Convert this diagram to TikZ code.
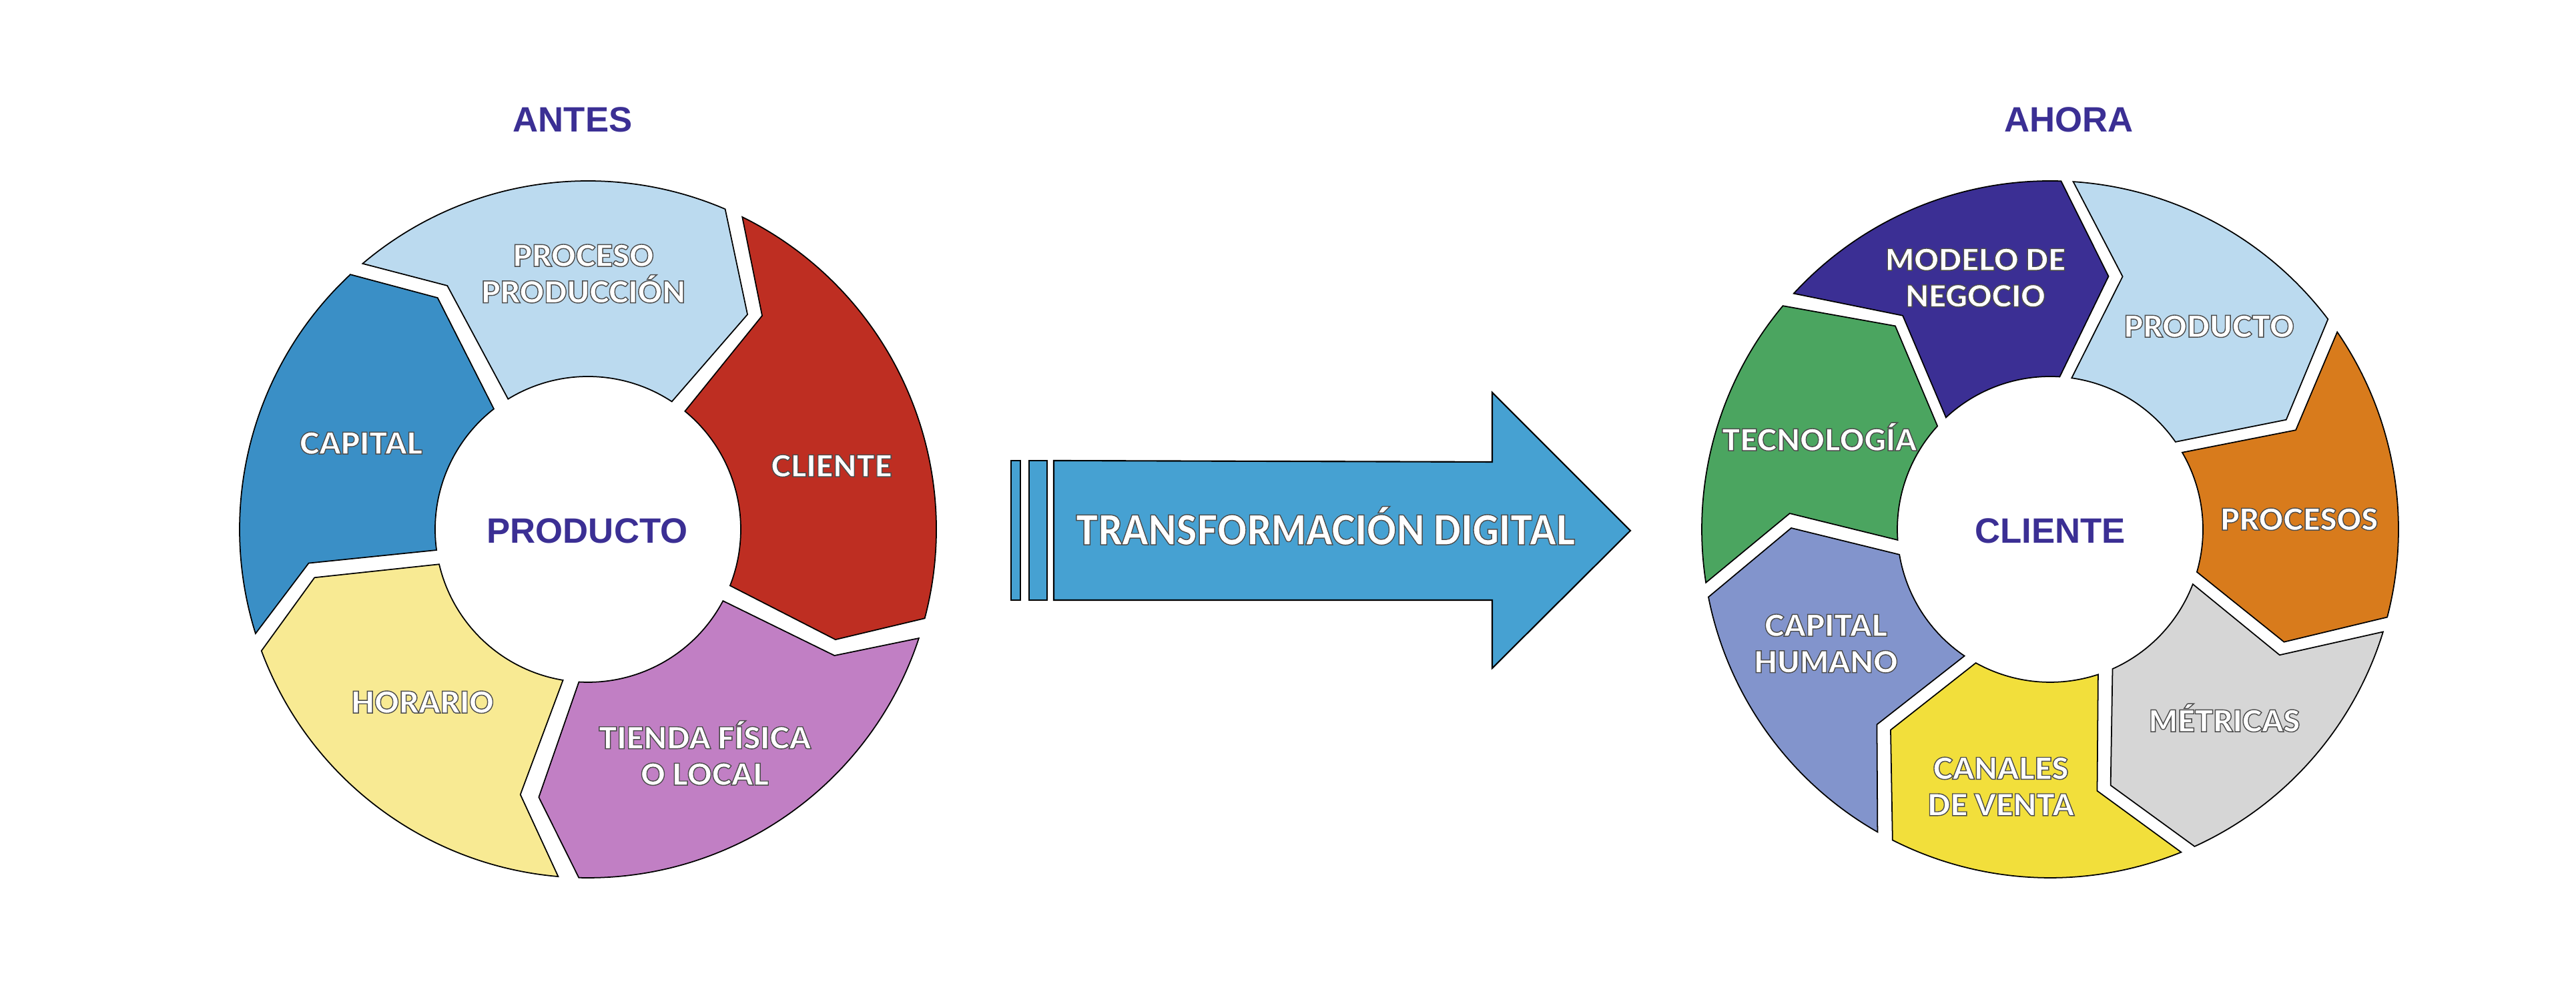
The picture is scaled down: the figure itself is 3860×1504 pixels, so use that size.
\documentclass[tikz,border=0pt]{standalone}
\usepackage{fontspec}
\setmainfont{Liberation Sans}
\IfFontExistsTF{Lato Black}{%
  \newfontfamily\heavyfont{Lato Black}%
  \newfontfamily\heavycond[FakeStretch=0.89]{Lato Black}%
}{%
  \newfontfamily\heavyfont{Liberation Sans Bold}%
  \newfontfamily\heavycond[FakeStretch=0.9]{Liberation Sans Bold}%
}
\definecolor{ink}{HTML}{3B2F94}
\definecolor{cLightBlue}{HTML}{BBDAEF}
\definecolor{cRed}{HTML}{BE2E22}
\definecolor{cPurple}{HTML}{C17FC4}
\definecolor{cPaleYellow}{HTML}{F8EA93}
\definecolor{cBlue}{HTML}{3A8FC6}
\definecolor{cIndigo}{HTML}{3B2F94}
\definecolor{cOrange}{HTML}{D87B1C}
\definecolor{cGray}{HTML}{D6D6D6}
\definecolor{cYellow}{HTML}{F2DF3B}
\definecolor{cPeri}{HTML}{8294CC}
\definecolor{cGreen}{HTML}{4BA560}
\definecolor{cArrow}{HTML}{46A1D2}
\newcommand{\Rout}{522}
\newcommand{\Rin}{229}
\newcommand{\outl}[1]{\special{pdf:literal direct 0.3 0.3 0.3 RG 0.4 w 2 Tr}#1\special{pdf:literal direct 0 Tr}}
% #1 colour, #2 trailing outer angle, #3 leading outer angle, #4 tip (a:r),
% #5 leading inner angle, #6 trailing inner angle, #7 notch (a:r)
\newcommand{\seg}[7]{%
  \filldraw[segline, fill=#1] (#2:\Rout) arc[start angle=#2, end angle=#3, radius=\Rout]
    -- (#4) -- (#5:\Rin) arc[start angle=#5, end angle=#6, radius=\Rin] -- (#7) -- cycle;}
\tikzset{
  segline/.style={draw=black, line width=0.5pt, line join=miter},
  lbl/.style={text=white, font=\heavyfont\fontsize{12.8}{15.5}\selectfont, align=center, inner sep=0pt},
  lblone/.style={lbl, text height=9.2pt, text depth=0pt},
  title/.style={text=ink, font=\bfseries\fontsize{15}{18}\selectfont, inner sep=0pt, text height=10.8pt, text depth=0pt},
  arrowshape/.style={draw=black, line width=0.6pt, fill=cArrow, line join=miter}
}
\begin{document}
\begin{tikzpicture}[x=0.01cm, y=0.01cm]
\useasboundingbox (0,0) rectangle (3860,1504);
\fill[white] (0,0) rectangle (3860,1504);

% ---------------- left wheel ----------------
\begin{scope}[shift={(881,711)}]
  \seg{cLightBlue}{130.3}{66.8}{53.4:401}{56.7}{121.5}{120:421.5}
  \seg{cRed}{63.7}{-14.8}{-24:406}{-21.6}{50.6}{50.8:413}
  \seg{cPurple}{-18.2}{-91.5}{-100.4:408}{-93.4}{-27.9}{-27.1:415}
  \seg{cPaleYellow}{-94.9}{-159.6}{-170:416}{-166.8}{-99.4}{-104.3:410}
  \seg{cBlue}{197.4}{133}{123:413.6}{128}{187.8}{186.9:421.5}
\end{scope}
\node[title] (antes) at (858,1325) {ANTES};
\node[lbl] (proceso) at (874,1094) {\outl{PROCESO\\PRODUCCIÓN}};
\node[lblone] (clienteL) at (1246,806) {\outl{CLIENTE}};
\node[lbl] (tienda) at (1056,376) {\outl{TIENDA FÍSICA\\O LOCAL}};
\node[lblone] (horario) at (633,452) {\outl{HORARIO}};
\node[lblone] (capital) at (541,840) {\outl{CAPITAL}};
\node[title] (producto) at (880,709) {PRODUCTO};

% ---------------- arrow ----------------
\filldraw[arrowshape] (1515,605) rectangle (1529,814);
\filldraw[arrowshape] (1542,605) rectangle (1569,814);
\filldraw[arrowshape] (1579,605) -- (1579,814) -- (2236,812) -- (2236,916)
  -- (2443,709) -- (2236,503) -- (2236,605) -- cycle;
\node[text=white, inner sep=0pt, text height=12.6pt, text depth=0pt,
  font=\heavycond\fontsize{17.5}{20}\selectfont] (td) at (1986,710)
  {\outl{TRANSFORMACIÓN DIGITAL}};

% ---------------- right wheel ----------------
\begin{scope}[shift={(3072,711)}]
  \seg{cIndigo}{137.4}{88.2}{77:389}{86.4}{132.97}{124.6:389}
  \seg{cLightBlue}{86.2}{37.1}{24.9:390}{34.9}{81.9}{74:394}
  \seg{cOrange}{34.5}{-14.6}{-25.7:389}{-16.2}{30.2}{22:397}
  \seg{cGray}{-17.1}{-65.5}{-76.7:394}{-65.9}{-21}{-28.7:392}
  \seg{cYellow}{-67.9}{-116.9}{-128.5:384}{-119.1}{-71.7}{-79.8:398}
  \seg{cPeri}{-119.7}{-168.8}{-180.3:388}{-170.5}{-124.1}{-131.6:391}
  \seg{cGreen}{188.8}{140.1}{127.3:383}{137.5}{184}{176.5:391}
\end{scope}
\node[title] (ahora) at (3100,1325) {AHORA};
\node[lbl] (modelo) at (2960,1088) {\outl{MODELO DE\\NEGOCIO}};
\node[lblone] (productoR) at (3310,1015) {\outl{PRODUCTO}};
\node[lblone] (procesos) at (3445,726) {\outl{PROCESOS}};
\node[lblone] (metricas) at (3333,424) {\outl{MÉTRICAS}};
\node[lbl] (canales) at (2998,326) {\outl{CANALES\\DE VENTA}};
\node[lbl] (caphum) at (2736,540) {\outl{CAPITAL\\HUMANO}};
\node[lblone] (tecno) at (2726,845) {\outl{TECNOLOGÍA}};
\node[title] (clienteR) at (3072,709) {CLIENTE};
\end{tikzpicture}
\end{document}
